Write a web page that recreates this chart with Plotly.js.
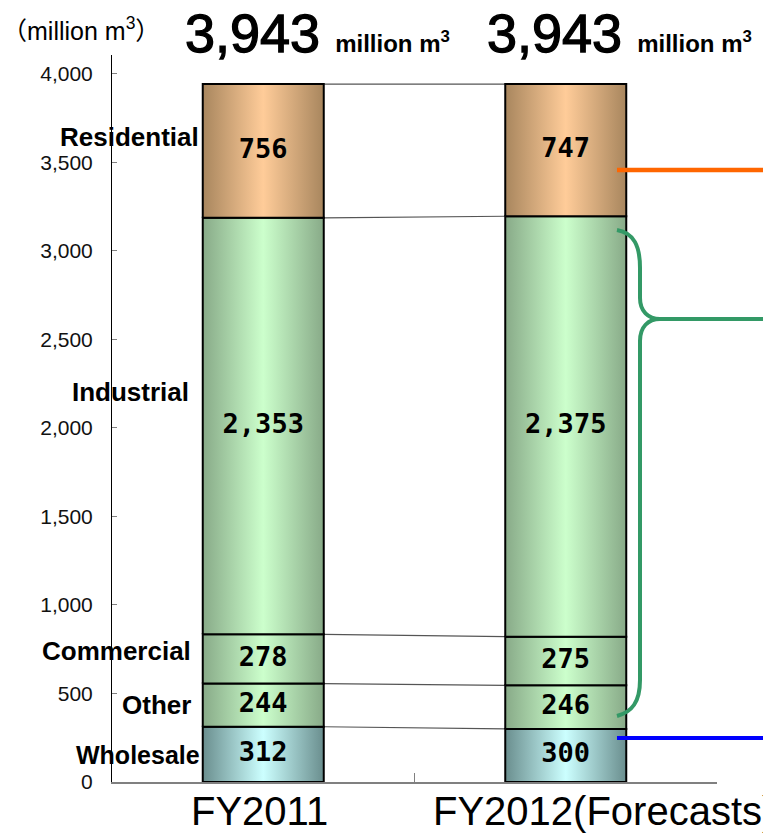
<!DOCTYPE html>
<html><head><meta charset="utf-8">
<script src="https://cdn.plot.ly/plotly-3.0.1.min.js"></script>
<style>html,body{margin:0;padding:0;background:#fff;}</style>
</head><body><div id="chart" style="width:763px;height:833px;"></div>
<script>
// ---- data ----
const categories = ['FY2011', 'FY2012(Forecasts)'];
const segments = ['Wholesale', 'Other', 'Commercial', 'Industrial', 'Residential'];
const fy2011 = [312, 244, 278, 2353, 756];
const fy2012 = [300, 246, 275, 2375, 747];
const yTickValues = [0, 500, 1000, 1500, 2000, 2500, 3000, 3500, 4000];
const unitText = 'million m<sup>3</sup>';
const axisUnitText = '（million m<sup>3</sup>）';

// ---- styles ----
const series = [fy2011, fy2012];
const BAR_W = 0.4;
const W = 763, H = 833;
const M = {l: 112, r: 46, t: 55, b: 51};
const PW = W - M.l - M.r, PH = H - M.t - M.b;
const px = p => (p - M.l) / PW;
const py = p => (H - M.b - p) / PH;
const green = ['#88aa88', '#ccffcc'];
const segStyle = {
  Wholesale: ['#6a8e8e', '#ccffff'],
  Other: green, Commercial: green, Industrial: green,
  Residential: ['#a8865e', '#ffcc99']
};
const labelShiftY = {Wholesale: -1, Other: 0, Commercial: 8, Industrial: 34, Residential: 14};
const labelShiftX = {Wholesale: -1, Other: -10, Commercial: -10, Industrial: -12, Residential: -2};
const labelSize = {Wholesale: 25, Other: 26, Commercial: 26, Industrial: 26, Residential: 26};
const fmt = v => v.toLocaleString('en-US');
const latin = 'Liberation Sans, Arial, sans-serif';

const traces = [];
const cums = series.map(vals => {
  let c = 0; return vals.map(v => { const b = c; c += v; return [b, c]; });
});

// connector lines between bars
segments.forEach((s, j) => {
  traces.push({
    type: 'scatter', mode: 'lines', hoverinfo: 'skip', showlegend: false,
    x: [0 + BAR_W / 2, 1 - BAR_W / 2],
    y: [cums[0][j][1], cums[1][j][1]],
    line: {color: '#555', width: 1.2}
  });
});

// bar segments with horizontal gradient
series.forEach((vals, i) => {
  vals.forEach((v, j) => {
    const [b, t] = cums[i][j];
    const x0 = i - BAR_W / 2, x1 = i + BAR_W / 2;
    const c = segStyle[segments[j]];
    traces.push({
      type: 'scatter', mode: 'lines', hoverinfo: 'skip', showlegend: false,
      x: [x0, x1, x1, x0, x0], y: [b, b, t, t, b],
      fill: 'toself',
      fillgradient: {type: 'horizontal', colorscale: [[0, c[0]], [0.5, c[1]], [1, c[0]]]},
      line: {color: '#000', width: 2}
    });
  });
  traces.push({
    type: 'scatter', mode: 'text', hoverinfo: 'skip', showlegend: false,
    x: vals.map(() => i),
    y: cums[i].map(([b, t]) => (b + t) / 2),
    text: vals.map(fmt),
    textposition: 'middle center',
    textfont: {family: 'DejaVu Sans Mono, monospace', size: 27, color: '#000', weight: 'bold'}
  });
});

const annotations = [];
annotations.push({
  xref: 'paper', yref: 'paper', x: px(0), y: py(29), xanchor: 'left', yanchor: 'middle',
  text: axisUnitText, showarrow: false,
  font: {family: 'Liberation Sans, Noto Sans CJK JP, sans-serif', size: 25, color: '#000'}
});
series.forEach((vals, i) => {
  const total = vals.reduce((a, b) => a + b, 0);
  annotations.push({
    xref: 'x', yref: 'paper', x: i - BAR_W / 2, xshift: -20, xanchor: 'left',
    y: py(33), yanchor: 'middle', showarrow: false,
    text: '<span style="stroke:#000;stroke-width:1.3px">' + fmt(total) + '</span> <span style="font-size:24px;font-weight:bold">' + unitText + '</span>',
    font: {family: latin, size: 54, color: '#000'}
  });
  annotations.push({
    xref: 'x', yref: 'paper', x: i, xshift: i === 0 ? -4 : 38, xanchor: 'center',
    y: py(811), yanchor: 'middle', showarrow: false,
    text: categories[i], font: {family: latin, size: 40, color: '#000'}
  });
});
segments.forEach((s, j) => {
  const [b, t] = cums[0][j];
  annotations.push({
    xref: 'x', yref: 'y', x: 0 - BAR_W / 2, xshift: labelShiftX[s], xanchor: 'right',
    y: (b + t) / 2, yshift: labelShiftY[s], yanchor: 'middle', showarrow: false,
    text: s, font: {family: latin, size: labelSize[s], color: '#000', weight: 'bold'}
  });
});

const P = (x, y) => px(x).toFixed(5) + ',' + py(y).toFixed(5);
const bracePath = 'M' + P(617, 230) + ' C' + P(634, 233) + ' ' + P(640, 246) + ' ' + P(640, 268) +
  ' L' + P(640, 298) + ' C' + P(640, 311) + ' ' + P(648, 319) + ' ' + P(660, 319) +
  ' L' + P(765, 319) +
  ' M' + P(660, 319) + ' C' + P(648, 319) + ' ' + P(640, 327) + ' ' + P(640, 341) +
  ' L' + P(640, 680) + ' C' + P(640, 702) + ' ' + P(632, 712) + ' ' + P(617, 716);

const shapes = [
  {type: 'line', xref: 'paper', yref: 'paper', x0: px(617), x1: px(765), y0: py(170), y1: py(170),
   line: {color: '#ff6600', width: 4.5}},
  {type: 'line', xref: 'paper', yref: 'paper', x0: px(617), x1: px(765), y0: py(738), y1: py(738),
   line: {color: '#0000ff', width: 4}},
  {type: 'path', xref: 'paper', yref: 'paper', path: bracePath,
   line: {color: '#339966', width: 4}}
];

const layout = {
  width: W, height: H, margin: M,
  paper_bgcolor: '#fff', plot_bgcolor: 'rgba(0,0,0,0)',
  showlegend: false,
  xaxis: {
    range: [-0.5, 1.5], showgrid: false, zeroline: false, fixedrange: true,
    showline: true, linecolor: '#808080', linewidth: 2,
    tickvals: [0.5, 1.5], ticks: 'inside', ticklen: 9, tickcolor: '#808080', tickwidth: 1,
    showticklabels: false
  },
  yaxis: {
    range: [0, 4107], showgrid: false, zeroline: false, fixedrange: true,
    showline: true, linecolor: '#000', linewidth: 1,
    tickvals: yTickValues, tickformat: ',d',
    ticks: 'inside', ticklen: 5, tickcolor: '#808080', tickwidth: 1,
    ticklabelstandoff: 14,
    tickfont: {family: latin, size: 21, color: '#111'}
  },
  annotations: annotations,
  shapes: shapes
};

Plotly.newPlot('chart', traces, layout, {displayModeBar: false, staticPlot: true});
</script>
</body></html>
